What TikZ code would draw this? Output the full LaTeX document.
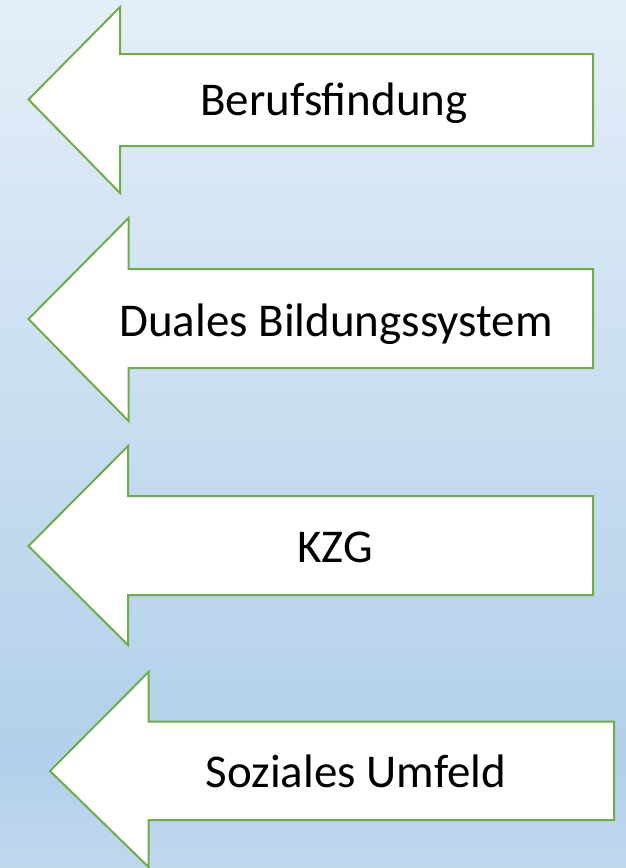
\documentclass[tikz,border=0pt]{standalone}
\usepackage{fontspec}
\setmainfont{Carlito}
\definecolor{bgtop}{RGB}{228,238,248}
\definecolor{bgmid}{RGB}{178,208,234}
\definecolor{bgbot}{RGB}{192,216,238}
\definecolor{arrowgreen}{RGB}{112,173,71}
\tikzset{
  arrowshape/.style={draw=arrowgreen, fill=white, line width=2pt, line join=miter},
  lbl/.style={inner sep=0pt, anchor=base, font=\fontsize{47}{56}\selectfont, text=black}
}
\begin{document}
\begin{tikzpicture}[x=1pt,y=-1pt]
\useasboundingbox (0,0) rectangle (626,868);
\shade[top color=bgtop, bottom color=bgmid, middle color={bgtop!50!bgmid}] (0,0) rectangle (626,760);
\shade[top color=bgmid, bottom color=bgbot] (0,759.5) rectangle (626,868);
% arrow 1
\draw[arrowshape] (28.5,99.5) -- (120,7) -- (120,54) -- (593,54) -- (593,146) -- (120,146) -- (120,193) -- cycle;
\node[lbl] (t1) at (334,115) {Berufsfindung};
% arrow 2
\draw[arrowshape] (28.5,319) -- (128.5,218) -- (128.5,269) -- (593,269) -- (593,368) -- (128.5,368) -- (128.5,421) -- cycle;
\node[lbl] (t2) at (336,336) {Duales Bildungssystem};
% arrow 3
\draw[arrowshape] (28.5,546) -- (128,446) -- (128,496) -- (593,496) -- (593,595) -- (128,595) -- (128,645) -- cycle;
\node[lbl] (t3) at (335,562) {KZG};
% arrow 4
\draw[arrowshape] (50,771) -- (148.5,672) -- (148.5,721.5) -- (614,721.5) -- (614,820) -- (148.5,820) -- (148.5,867) -- cycle;
\node[lbl] (t4) at (356,787) {Soziales Umfeld};
\end{tikzpicture}
\end{document}
